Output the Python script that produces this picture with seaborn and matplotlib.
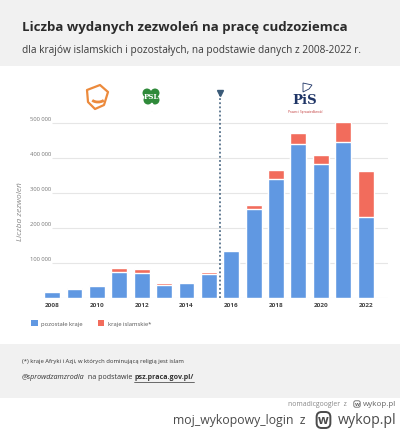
import matplotlib
matplotlib.use("Agg")
import matplotlib.pyplot as plt
import matplotlib.patches as mpatches
import matplotlib.transforms as mtransforms
import seaborn as sns
import pandas as pd
import numpy as np

# ---- data ----
years = [2008, 2009, 2010, 2011, 2012, 2013, 2014, 2015,
         2016, 2017, 2018, 2019, 2020, 2021, 2022]
other = [18000, 28000, 34000, 74000, 72000, 39000, 44000, 70000,
         134000, 255000, 341000, 440000, 385000, 446000, 232000]
islamic = [1500, 2000, 4000, 11500, 12000, 4000, 3000, 6000,
           5000, 11000, 25000, 32000, 25000, 58000, 133000]
ytick_values = [100000, 200000, 300000, 400000, 500000]
ytick_labels = ["100 000", "200 000", "300 000", "400 000", "500 000"]
xtick_years = [2008, 2010, 2012, 2014, 2016, 2018, 2020, 2022]
series_names = ["pozostałe kraje", "kraje islamskie*"]

title = "Liczba wydanych zezwoleń na pracę cudzoziemca"
subtitle = "dla krajów islamskich i pozostałych, na podstawie danych z 2008-2022 r."
ylabel = "Liczba zezwoleń"
note = "(*) kraje Afryki i Azji, w których dominującą religią jest islam"

BLUE = "#6098e2"
RED = "#f26c5c"
GRAY_BG = "#f1f1f1"

sns.set_theme(style="white")
plt.rcParams['font.family'] = ['Open Sans', 'DejaVu Sans']

W, H = 400, 431
fig = plt.figure(figsize=(W / 100, H / 100), dpi=100)
fig.patch.set_facecolor("white")
renderer = fig.canvas.get_renderer()

def fx(px):
    return px / W

def fy(py):
    return 1 - py / H

def fit_text(x0, x1, y, s, size=8, **kw):
    """Place text left-aligned at pixel x0 and scale font so it ends at pixel x1."""
    t = fig.text(fx(x0), fy(y), s, fontsize=size, ha="left", va="center", **kw)
    w = t.get_window_extent(renderer=renderer).width
    if w > 0:
        t.set_fontsize(size * (x1 - x0) / w)
    return t

# backgrounds
fig.patches.append(mpatches.Rectangle((0, fy(67)), 1, 67 / H, transform=fig.transFigure,
                                      facecolor=GRAY_BG, edgecolor="none", zorder=0))
fig.patches.append(mpatches.Rectangle((0, fy(399)), 1, (399 - 345) / H, transform=fig.transFigure,
                                      facecolor=GRAY_BG, edgecolor="none", zorder=0))

fit_text(22, 348, 27, title, size=10, fontweight="bold", color="#2b2b2b")
fit_text(22, 362, 50, subtitle, size=7.3, color="#3a3a3a")

# ---- axes ----
ax_left, ax_right = 40, 388
ax_bottom, ax_top = 299.3, 110.3
ax = fig.add_axes([fx(ax_left), fy(ax_bottom), (ax_right - ax_left) / W, (ax_bottom - ax_top) / H])
ax.set_facecolor("none")

df = pd.DataFrame({"year": [str(y) for y in years],
                   "other": other,
                   "total": [o + i for o, i in zip(other, islamic)]})
order = [str(y) for y in years]
sns.barplot(data=df, x="year", y="total", order=order, color=RED, saturation=1,
            width=0.71, ax=ax, zorder=3)
sns.barplot(data=df, x="year", y="other", order=order, color=BLUE, saturation=1,
            width=0.71, ax=ax, zorder=4)

ax.set_xlim(-0.54, 15.0)
ax.set_ylim(0, 540000)
for s in ax.spines.values():
    s.set_visible(False)

for v in ytick_values:
    ax.hlines(v, 0.0, 15.0, color="#e6e6e6", lw=0.8, zorder=1)
ax.hlines(0, -0.54, 15.0, color="#e0e0e0", lw=0.8, zorder=1)
ax.set_yticks([])
trans = mtransforms.blended_transform_factory(fig.transFigure, ax.transData)
for v, lab in zip(ytick_values, ytick_labels):
    t = fig.text(fx(30), 0, lab, fontsize=4.2, color="#777777", ha="left", va="bottom")
    t.set_transform(mtransforms.offset_copy(trans, fig=fig, y=1.5, units="points"))
    t.set_position((fx(30), v))

xt = [years.index(y) for y in xtick_years]
ax.set_xticks(xt)
ax.set_xticklabels([str(y) for y in xtick_years], fontsize=4.6, color="#444444", fontweight="bold")
ax.tick_params(axis="x", length=0, pad=3)
ax.set_xlabel("")
ax.set_ylabel("")

fig.text(fx(20), fy(212), ylabel, rotation=90, fontsize=6, color="#888888", style="italic",
         ha="center", va="center")

# dashed divider between 2015 and 2016
xd = 7.5
ytop = (ax_bottom - 93) / (ax_bottom - ax_top) * 540000
ax.plot([xd, xd], [0, ytop * 0.985], ls=(0, (1.2, 1.5)),
        color="#3a5a78", lw=1.1, clip_on=False, zorder=5)
ax.plot([xd], [(ax_bottom - 94) / (ax_bottom - ax_top) * 540000], marker="v", color="#3a5a78",
        markersize=4.5, clip_on=False, zorder=6)

# ---- party "logos" (approximate) ----
po = mpatches.Polygon([[fx(87), fy(91)], [fx(100), fy(86)], [fx(108), fy(93)],
                       [fx(104), fy(106)], [fx(95), fy(110)], [fx(88), fy(103)]],
                      closed=True, fill=False, edgecolor="#ec8a3c", lw=1.6,
                      transform=fig.transFigure, joinstyle="round")
fig.patches.append(po)
smile = mpatches.Arc((fx(98), fy(99)), fx(14), 8 / H, theta1=200, theta2=340,
                     edgecolor="#ec8a3c", lw=2, transform=fig.transFigure)
fig.patches.append(smile)
for dx, dy in [(-4, -3), (4, -3), (-3, 4), (4, 4), (0, 0)]:
    fig.patches.append(mpatches.Ellipse((fx(151 + dx), fy(97 + dy)), 9 / W, 9 / H,
                                        facecolor="#2f8a3a", edgecolor="none",
                                        transform=fig.transFigure))
fig.patches.append(mpatches.Rectangle((fx(151), fy(112)), 1.2 / W, 8 / H,
                                      facecolor="#2f8a3a", transform=fig.transFigure))
fig.text(fx(151), fy(97), "PSL", fontsize=5, color="white", fontweight="bold",
         ha="center", va="center", family="DejaVu Serif")
fig.text(fx(305), fy(101), "PiS", fontsize=9.5, color="#1f3566", fontweight="bold",
         ha="center", va="center", family="DejaVu Serif")
fig.text(fx(305), fy(112), "Prawo i Sprawiedliwość", fontsize=2.3, color="#c23b3b",
         ha="center", va="center")
fig.patches.append(mpatches.Polygon([[fx(303), fy(93)], [fx(303), fy(84)], [fx(312), fy(86)],
                                     [fx(309), fy(90)]], closed=True, fill=False,
                                    edgecolor="#1f3566", lw=0.6, transform=fig.transFigure))

# ---- legend ----
handles = [mpatches.Patch(facecolor=BLUE, edgecolor="none", label=series_names[0]),
           mpatches.Patch(facecolor=RED, edgecolor="none", label=series_names[1])]
fig.legend(handles=handles, loc="center left", bbox_to_anchor=(fx(26), fy(324)), ncol=2,
           frameon=False, fontsize=4.2, handlelength=1.1, handleheight=1.1,
           handletextpad=0.6, columnspacing=2.6, labelcolor="#555555")

# ---- footer ----
fit_text(22, 183, 362, note, size=4.5, color="#333333")
t1 = fig.text(fx(22), fy(378), "@sprowdzamzrodla", fontsize=5.1, color="#333333",
              ha="left", va="center", style="italic")
fig.canvas.draw()
bb = t1.get_window_extent(renderer=renderer)
t2 = fig.text(bb.x1 / W + 0.004, fy(378), " na podstawie ", fontsize=5.1, color="#333333",
              ha="left", va="center")
bb2 = t2.get_window_extent(renderer=renderer)
t3 = fig.text(bb2.x1 / W, fy(378), "psz.praca.gov.pl/", fontsize=5.1, color="#333333",
              ha="left", va="center", fontweight="bold")
bb3 = t3.get_window_extent(renderer=renderer)
fig.lines.append(plt.Line2D([bb3.x0 / W, bb3.x1 / W], [fy(382.5), fy(382.5)], color="#333333",
                            lw=0.5, transform=fig.transFigure))

# ---- watermarks ----
fit_text(288, 347, 405, "nomadicgoogler  z", size=4.6, color="#888888")
fig.text(fx(357), fy(405), "w", fontsize=4.2, color="#666666", ha="center", va="center",
         fontweight="bold",
         bbox=dict(boxstyle="round,pad=0.12,rounding_size=0.3", fc="none", ec="#666666", lw=0.6))
fit_text(363, 396, 405, "wykop.pl", size=5.5, color="#666666")

fit_text(173, 305, 421, "moj_wykopowy_login  z", size=10, color="#4a4a4a")
fig.text(fx(323.5), fy(421), "w", fontsize=9, color="#4a4a4a", ha="center", va="center",
         fontweight="bold",
         bbox=dict(boxstyle="round,pad=0.12,rounding_size=0.4", fc="none", ec="#4a4a4a", lw=1.4))
fit_text(338, 396, 421, "wykop.pl", size=12, color="#4a4a4a")

fig.savefig("out.png", dpi=100)
